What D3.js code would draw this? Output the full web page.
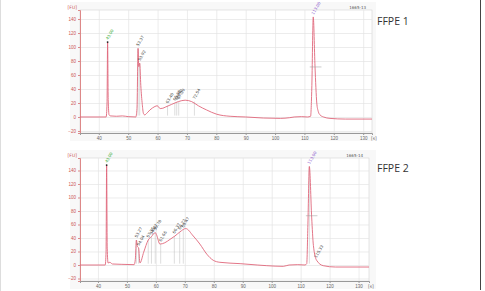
<!DOCTYPE html>
<html>
<head>
<meta charset="utf-8">
<script src="https://cdn.jsdelivr.net/npm/d3@7"></script>
<style>
  body { margin: 0; background: #fff; }
  svg { display: block; font-family: "DejaVu Sans", sans-serif; }
</style>
</head>
<body>
<svg id="fig" width="485" height="291"></svg>
<script>
// electropherogram traces, time [s] vs fluorescence [FU]
const ffpe1Time = [33.6, 42.5, 42.8, 43.0, 43.2, 43.5, 44, 46, 48, 50, 52.6, 53.0, 53.37, 53.6, 53.92, 54.3, 54.8, 55.2, 55.6, 56.5, 57.4, 58.3, 59.1, 59.9, 60.9, 61.8, 62.6, 64.8, 67.1, 69.4, 71.6, 73.9, 76.7, 80.1, 84.7, 90, 96, 101.8, 105, 106.5, 109, 111, 112.1, 112.5, 113.0, 113.6, 114.2, 114.7, 115.3, 116.5, 118.7, 124, 133.0];
const ffpe1FU   = [0, 0, 20, 107, 25, 3, 1.5, 1, 1.5, 0.5, 0, 12, 98, 72, 77, 45, 18, 5, 3, 6, 10, 13, 15, 16, 12, 12.5, 14, 18, 22, 24, 22, 16, 10, 4, 1, 0, -1.5, -2, -1, 0, 0.5, 0, 1, 40, 143, 72, 20, 8, 3, 0, -2, -3, -3];

const ffpe2Time = [33.8, 42.5, 42.8, 43.0, 43.2, 43.5, 44.1, 45, 48, 52.5, 52.9, 53.27, 53.6, 54.04, 54.5, 55.8, 57.36, 58.47, 59.78, 60.3, 61.4, 63.1, 64.9, 66.6, 68.3, 70.3, 72.9, 75.2, 77.6, 79.8, 82.1, 89.1, 95, 98.3, 104, 106, 109, 111.5, 112.1, 112.5, 113.0, 113.8, 114.4, 115.5, 117.8, 122, 133.6];
const ffpe2FU   = [0, 0, 20, 148, 25, 3, 4, 1.5, 1, 0.5, 8, 37, 28, 25, 3, 19, 37, 42, 48, 44, 31, 33, 38, 43, 49, 54, 43, 31, 16, 7, 4, 2, 0, -1, -2, 0, 0.5, 0, 2, 60, 146, 71, 29, 7, -1, -3, -3];

const yTicks = [-20, 0, 20, 40, 60, 80, 100, 120, 140];
const xTicks = [40, 50, 60, 70, 80, 90, 100, 110, 120, 130];

// peak calls: time, height, label
const ffpe1PeakT = [43.0, 53.37, 53.92, 63.40, 65.88, 66.52, 67.20, 72.54, 113.0];
const ffpe1PeakFU = [107, 98, 77, 16, 20, 21, 22, 22, 143];
const ffpe1PeakLabel = ["43.00", "53.37", "53.92", "63.40", "65.88", "66.52", "67.20", "72.54", "113.00"];

const ffpe2PeakT = [43.0, 53.27, 54.04, 57.36, 58.47, 59.78, 61.66, 66.37, 68.22, 69.47, 113.0, 115.33];
const ffpe2PeakFU = [148, 37, 25, 37, 42, 48, 31, 43, 49, 52, 146, 7];
const ffpe2PeakLabel = ["43.00", "53.27", "54.04", "57.36", "58.47", "59.78", "61.66", "66.37", "68.22", "69.47", "113.00", "115.33"];

const svg = d3.select("#fig");

// outer frame pieces
svg.append("line").attr("x1", 480.5).attr("x2", 480.5).attr("y1", 0).attr("y2", 290)
  .attr("stroke", "#444").attr("stroke-width", 1);
svg.append("line").attr("x1", 0.5).attr("x2", 0.5).attr("y1", 0).attr("y2", 291)
  .attr("stroke", "#ddd").attr("stroke-width", 1);

function drawPanel(opt) {
  const g = svg.append("g");

  g.append("rect")
    .attr("x", 70).attr("y", opt.top - 8).attr("width", 306).attr("height", opt.bottom - opt.top + 16)
    .attr("fill", "#f8f8f8");

  const x = d3.scaleLinear().domain(opt.xDomain).range([80, opt.right]);
  const y = d3.scaleLinear().domain(opt.yDomain).range([opt.bottom, opt.top]);

  g.append("rect")
    .attr("x", 80).attr("y", opt.top).attr("width", opt.right - 80).attr("height", opt.bottom - opt.top)
    .attr("fill", "#fff").attr("stroke", "#d4d4d4").attr("stroke-width", 0.6);

  // grid
  g.append("g").selectAll("line").data(yTicks).join("line")
    .attr("x1", 80).attr("x2", opt.right)
    .attr("y1", d => y(d) + 0.5).attr("y2", d => y(d) + 0.5)
    .attr("stroke", "#e4e4e4").attr("stroke-width", 0.7);
  g.append("g").selectAll("line").data(xTicks).join("line")
    .attr("x1", d => x(d) + 0.5).attr("x2", d => x(d) + 0.5)
    .attr("y1", opt.top).attr("y2", opt.bottom)
    .attr("stroke", "#e4e4e4").attr("stroke-width", 0.7);

  // y axis
  const ya = g.append("g").attr("transform", "translate(80,0)")
    .call(d3.axisLeft(y).tickValues(yTicks).tickSize(2).tickPadding(2));
  ya.select(".domain").attr("stroke", "#d88");
  ya.selectAll(".tick line").attr("stroke", "#d88");
  ya.selectAll("text").attr("fill", "#c55").attr("font-size", 4.5);
  g.append("text").attr("x", 77).attr("y", opt.top - 1).attr("text-anchor", "end")
    .attr("font-size", 4.5).attr("fill", "#c55").text("[FU]");

  // x axis
  const xa = g.append("g").attr("transform", `translate(0,${opt.bottom})`)
    .call(d3.axisBottom(x).tickValues(xTicks).tickSize(2).tickPadding(1.5));
  xa.select(".domain").attr("stroke", "#999");
  xa.selectAll(".tick line").attr("stroke", "#999");
  xa.selectAll("text").attr("fill", "#666").attr("font-size", 4.5);
  g.append("text").attr("x", opt.right - 1).attr("y", opt.bottom + 7).attr("text-anchor", "start")
    .attr("font-size", 4.5).attr("fill", "#666").text("[s]");

  // sample id
  g.append("text").attr("x", opt.right - 6).attr("y", opt.top - 1).attr("text-anchor", "end")
    .attr("font-size", 4).attr("fill", "#555").text(opt.id);

  // peak drop lines
  g.append("g").selectAll("line").data(opt.peakT.slice(1, -1)).join("line")
    .attr("x1", d => x(d)).attr("x2", d => x(d))
    .attr("y1", (d, i) => y(opt.peakFU[i + 1])).attr("y2", y(2))
    .attr("stroke", "#bbb").attr("stroke-width", 0.5);

  // trace
  const pts = opt.time.map((t, i) => [t, opt.fu[i]]);
  g.append("path").datum(pts)
    .attr("fill", "none").attr("stroke", "#e0667a").attr("stroke-width", 0.9)
    .attr("d", d3.line().x(d => x(d[0])).y(d => y(d[1])).curve(d3.curveMonotoneX));

  // half-height tick on upper marker
  const um = opt.peakT[opt.upperIdx];
  g.append("line")
    .attr("x1", x(um - 1.2)).attr("x2", x(um + 2.8))
    .attr("y1", y(opt.peakFU[opt.upperIdx] / 2)).attr("y2", y(opt.peakFU[opt.upperIdx] / 2))
    .attr("stroke", "#999").attr("stroke-width", 0.5);

  // lower marker dot
  g.append("circle").attr("cx", x(opt.peakT[0])).attr("cy", y(opt.peakFU[0])).attr("r", 0.9).attr("fill", "#222");

  // peak labels
  g.append("g").selectAll("text").data(opt.peakLabel).join("text")
    .attr("transform", (d, i) => `translate(${x(opt.peakT[i]) + 0.5},${y(opt.peakFU[i]) - 2}) rotate(-60)`)
    .attr("font-size", 4).attr("text-anchor", "start")
    .attr("fill", (d, i) => i === 0 ? "#3a3" : (i === opt.upperIdx ? "#85c" : "#444"))
    .text(d => d);

  // panel title
  svg.append("text").attr("x", 377).attr("y", opt.titleY)
    .attr("font-family", "'Open Sans', sans-serif").attr("font-size", 10.5).attr("fill", "#333")
    .text(opt.title);
}

drawPanel({
  top: 10, bottom: 133, right: 372,
  xDomain: [33.6, 133.0], yDomain: [-22.9, 152.9],
  time: ffpe1Time, fu: ffpe1FU,
  peakT: ffpe1PeakT, peakFU: ffpe1PeakFU, peakLabel: ffpe1PeakLabel, upperIdx: ffpe1PeakT.length - 1,
  id: "1665-13", title: "FFPE 1", titleY: 25
});

drawPanel({
  top: 158, bottom: 281, right: 369,
  xDomain: [33.8, 133.6], yDomain: [-23.7, 158.5],
  time: ffpe2Time, fu: ffpe2FU,
  peakT: ffpe2PeakT, peakFU: ffpe2PeakFU, peakLabel: ffpe2PeakLabel, upperIdx: ffpe2PeakT.length - 2,
  id: "1665-14", title: "FFPE 2", titleY: 172
});
</script>
</body>
</html>
